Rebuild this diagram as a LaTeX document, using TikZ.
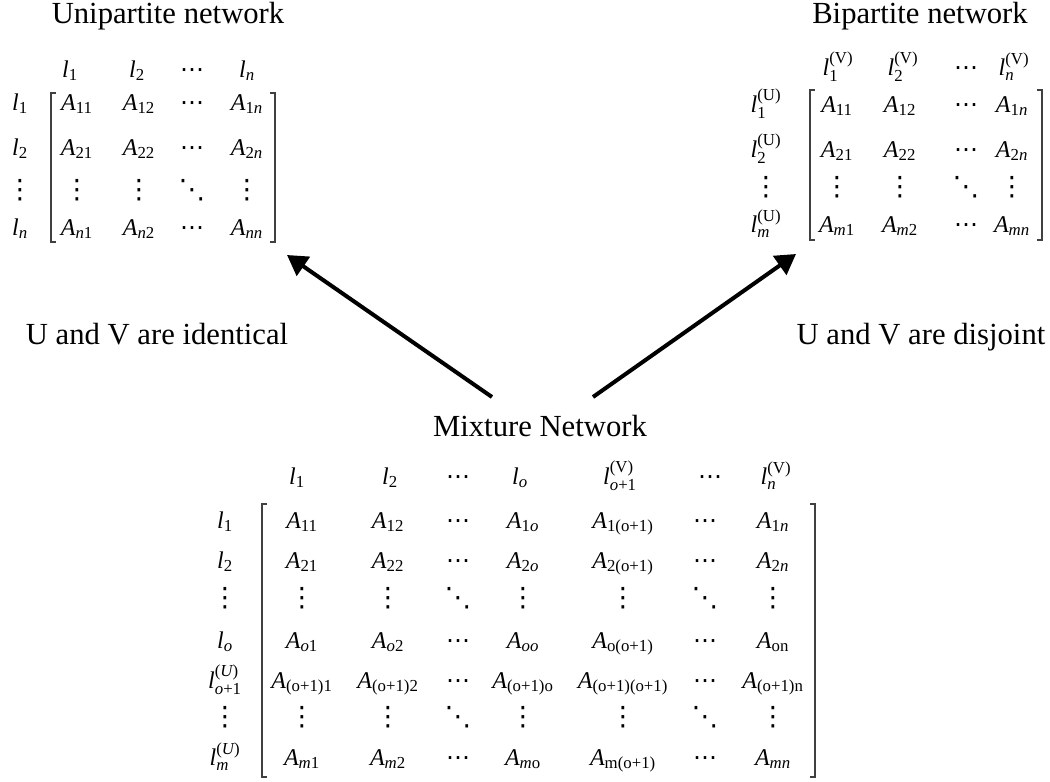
\documentclass[tikz,border=0pt]{standalone}
\usepackage{amsmath}
\usepackage{fontspec}
\setmainfont{Liberation Serif}
\newfontfamily\dvs{DejaVu Sans}
\usetikzlibrary{arrows.meta}
\newcommand{\iv}[1]{\text{\itshape #1}}
\newcommand{\rv}[1]{\text{\upshape #1}}
\newcommand{\Ae}[1]{$\iv{A}_{#1}$}
\newcommand{\lsub}[1]{$\iv{l}_{#1}$}
\newcommand{\lss}[2]{$\iv{l}_{#1}^{#2}$}
\newcommand{\vd}{{\dvs\fontsize{20}{22}\selectfont ⋮}}
\newcommand{\dd}{{\dvs\fontsize{20}{22}\selectfont ⋱}}
\newcommand{\cd}{{\dvs\fontsize{18}{21}\selectfont ⋯}}
\begin{document}
\begin{tikzpicture}[x=0.75pt,y=-0.75pt,
  ttl/.style={font=\fontsize{23}{27}\selectfont, anchor=base, inner sep=0pt},
  ent/.style={font=\fontsize{18}{21}\selectfont, anchor=base, inner sep=0pt},
  dts/.style={font=\fontsize{18}{21}\selectfont, anchor=center, inner sep=0pt},
  brk/.style={draw=black!75, line width=1pt},
  arr/.style={line width=3pt, -{Triangle[length=15pt,width=17pt]}}]
\useasboundingbox (0,0) rectangle (1050,782);

% ---------- Unipartite ----------
\node[ttl] (uTitle) at (168,23) {Unipartite network};
\foreach \x/\cc [count=\i] in {70/{\lsub{\rv{1}}},137/{\lsub{\rv{2}}},192/{\cd},247/{\lsub{\iv{n}}}}
  \node[ent] (uh\i) at (\x,77) {\cc};
\foreach \x/\cc [count=\i] in {20/{\lsub{\rv{1}}},77/{\Ae{\rv{11}}},139/{\Ae{\rv{12}}},192/{\cd},247/{\Ae{\rv{1}\iv{n}}}}
  \node[ent] (ua\i) at (\x,110) {\cc};
\foreach \x/\cc [count=\i] in {20/{\lsub{\rv{2}}},77/{\Ae{\rv{21}}},139/{\Ae{\rv{22}}},192/{\cd},247/{\Ae{\rv{2}\iv{n}}}}
  \node[ent] (ub\i) at (\x,155) {\cc};
\foreach \x/\cc [count=\i] in {20/{\vd},77/{\vd},139/{\vd},192/{\dd},247/{\vd}}
  \node[dts] (uc\i) at (\x,190) {\cc};
\foreach \x/\cc [count=\i] in {20/{\lsub{\iv{n}}},77/{\Ae{\iv{n}\rv{1}}},139/{\Ae{\iv{n}\rv{2}}},192/{\cd},247/{\Ae{\iv{nn}}}}
  \node[ent] (ud\i) at (\x,235) {\cc};
\draw[brk] (56,93) -- (51,93) -- (51,242) -- (56,242);
\draw[brk] (270,93) -- (275,93) -- (275,242) -- (270,242);

% ---------- Bipartite ----------
\node[ttl] (bTitle) at (920,23) {Bipartite network};
\foreach \x/\cc [count=\i] in {838/{\lss{\rv{1}}{\rv{(V)}}},903/{\lss{\rv{2}}{\rv{(V)}}},966/{\cd},1014/{\lss{\iv{n}}{\rv{(V)}}}}
  \node[ent] (bh\i) at (\x,75) {\cc};
\foreach \x/\cc [count=\i] in {766/{\lss{\rv{1}}{\rv{(U)}}},837/{\Ae{\rv{11}}},900/{\Ae{\rv{12}}},966/{\cd},1012/{\Ae{\rv{1}\iv{n}}}}
  \node[ent] (ba\i) at (\x,112) {\cc};
\foreach \x/\cc [count=\i] in {766/{\lss{\rv{2}}{\rv{(U)}}},837/{\Ae{\rv{21}}},900/{\Ae{\rv{22}}},966/{\cd},1012/{\Ae{\rv{2}\iv{n}}}}
  \node[ent] (bb\i) at (\x,157) {\cc};
\foreach \x/\cc [count=\i] in {766/{\vd},837/{\vd},900/{\vd},966/{\dd},1012/{\vd}}
  \node[dts] (bc\i) at (\x,187) {\cc};
\foreach \x/\cc [count=\i] in {766/{\lss{\iv{m}}{\rv{(U)}}},837/{\Ae{\iv{m}\rv{1}}},900/{\Ae{\iv{m}\rv{2}}},966/{\cd},1012/{\Ae{\iv{mn}}}}
  \node[ent] (bd\i) at (\x,232) {\cc};
\draw[brk] (815,90) -- (810,90) -- (810,240) -- (815,240);
\draw[brk] (1037,90) -- (1042,90) -- (1042,240) -- (1037,240);

% ---------- labels ----------
\node[ttl] (lblId) at (157,344) {U and V are identical};
\node[ttl] (lblDis) at (921,344) {U and V are disjoint};

% ---------- Mixture ----------
\node[ttl] (mTitle) at (540,436) {Mixture Network};
\foreach \x/\cc [count=\i] in {297/{\lsub{\rv{1}}},390/{\lsub{\rv{2}}},458/{\cd},520/{\lsub{\iv{o}}},620/{\lss{\iv{o}\rv{+1}}{\rv{(V)}}},710/{\cd},776/{\lss{\iv{n}}{\rv{(V)}}}}
  \node[ent] (mh\i) at (\x,484) {\cc};
\foreach \x/\cc [count=\i] in {225/{\lsub{\rv{1}}},302/{\Ae{\rv{11}}},388/{\Ae{\rv{12}}},458/{\cd},523/{\Ae{\rv{1}\iv{o}}},623/{\Ae{\rv{1(o+1)}}},705/{\cd},773/{\Ae{\rv{1}\iv{n}}}}
  \node[ent] (ma\i) at (\x,528) {\cc};
\foreach \x/\cc [count=\i] in {225/{\lsub{\rv{2}}},302/{\Ae{\rv{21}}},388/{\Ae{\rv{22}}},458/{\cd},523/{\Ae{\rv{2}\iv{o}}},623/{\Ae{\rv{2(o+1)}}},705/{\cd},773/{\Ae{\rv{2}\iv{n}}}}
  \node[ent] (mb\i) at (\x,568) {\cc};
\foreach \x/\cc [count=\i] in {225/{\vd},302/{\vd},388/{\vd},458/{\dd},523/{\vd},623/{\vd},705/{\dd},773/{\vd}}
  \node[dts] (mc\i) at (\x,598) {\cc};
\foreach \x/\cc [count=\i] in {225/{\lsub{\iv{o}}},302/{\Ae{\iv{o}\rv{1}}},388/{\Ae{\iv{o}\rv{2}}},458/{\cd},523/{\Ae{\iv{oo}}},623/{\Ae{\rv{o(o+1)}}},705/{\cd},773/{\Ae{\rv{on}}}}
  \node[ent] (md\i) at (\x,648) {\cc};
\foreach \x/\cc [count=\i] in {225/{\lss{\iv{o}\rv{+1}}{\rv{(}\iv{U}\rv{)}}},302/{\Ae{\rv{(o+1)1}}},388/{\Ae{\rv{(o+1)2}}},458/{\cd},523/{\Ae{\rv{(o+1)o}}},623/{\Ae{\rv{(o+1)(o+1)}}},705/{\cd},773/{\Ae{\rv{(o+1)n}}}}
  \node[ent] (me\i) at (\x,688) {\cc};
\foreach \x/\cc [count=\i] in {225/{\vd},302/{\vd},388/{\vd},458/{\dd},523/{\vd},623/{\vd},705/{\dd},773/{\vd}}
  \node[dts] (mf\i) at (\x,717) {\cc};
\foreach \x/\cc [count=\i] in {225/{\lss{\iv{m}}{\rv{(}\iv{U}\rv{)}}},302/{\Ae{\iv{m}\rv{1}}},388/{\Ae{\iv{m}\rv{2}}},458/{\cd},523/{\Ae{\iv{m}\rv{o}}},623/{\Ae{\rv{m(o+1)}}},705/{\cd},773/{\Ae{\iv{mn}}}}
  \node[ent] (mg\i) at (\x,765) {\cc};
\draw[brk] (267,504) -- (262,504) -- (262,777) -- (267,777);
\draw[brk] (810,504) -- (815,504) -- (815,777) -- (810,777);

% ---------- arrows ----------
\coordinate (mL) at (492,397);
\coordinate (uTip) at (287,255);
\coordinate (mR) at (593,397);
\coordinate (bTip) at (796,254);
\draw[arr] (mL) -- (uTip);
\draw[arr] (mR) -- (bTip);
\end{tikzpicture}
\end{document}
